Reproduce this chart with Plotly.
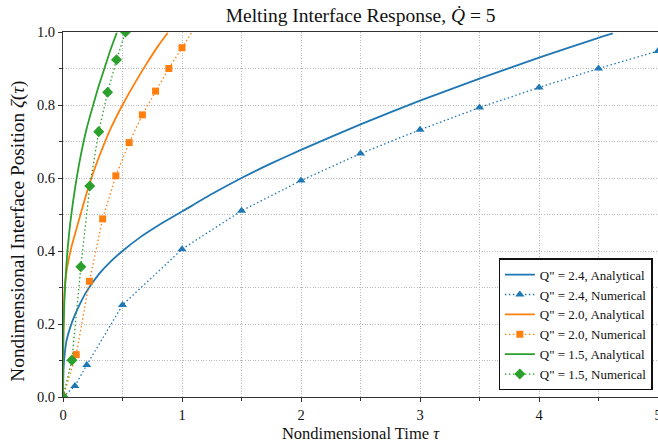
import plotly.graph_objects as go

# ---- data ----
tau_a24 = [0, 0.005, 0.015, 0.03, 0.06, 0.1, 0.15, 0.2, 0.3, 0.4, 0.5, 0.65, 0.8, 1.0, 1.25, 1.5, 1.75, 2.0, 2.5, 3.0, 3.5, 4.0, 4.5, 4.62]
zeta_a24 = [0, 0.08, 0.12, 0.155, 0.19, 0.225, 0.26, 0.29, 0.336, 0.371, 0.40, 0.438, 0.47, 0.508, 0.556, 0.600, 0.640, 0.677, 0.747, 0.812, 0.872, 0.930, 0.984, 0.996]

tau_n24 = [0, 0.1, 0.2, 0.5, 1.0, 1.5, 2.0, 2.5, 3.0, 3.5, 4.0, 4.5, 5.0]
zeta_n24 = [0, 0.030, 0.088, 0.252, 0.405, 0.510, 0.593, 0.667, 0.732, 0.793, 0.848, 0.900, 0.948]

tau_a20 = [0, 0.002, 0.006, 0.013, 0.03, 0.05, 0.07, 0.1, 0.14, 0.2, 0.26, 0.32, 0.4, 0.5, 0.6, 0.7, 0.8, 0.88]
zeta_a20 = [0, 0.14, 0.23, 0.295, 0.345, 0.38, 0.41, 0.445, 0.492, 0.56, 0.62, 0.672, 0.735, 0.80, 0.858, 0.912, 0.962, 0.998]

tau_n20 = [0, 0.111, 0.222, 0.333, 0.444, 0.556, 0.667, 0.778, 0.889, 1.0, 1.111]
zeta_n20 = [0, 0.116, 0.317, 0.488, 0.606, 0.697, 0.773, 0.838, 0.900, 0.957, 1.013]

tau_a15 = [0, 0.001, 0.004, 0.012, 0.025, 0.04, 0.06, 0.083, 0.11, 0.147, 0.2, 0.259, 0.3, 0.354, 0.4, 0.452]
zeta_a15 = [0, 0.11, 0.18, 0.265, 0.345, 0.41, 0.474, 0.532, 0.59, 0.658, 0.737, 0.806, 0.852, 0.906, 0.952, 0.998]

tau_n15 = [0, 0.075, 0.15, 0.225, 0.3, 0.375, 0.45, 0.525]
zeta_n15 = [0, 0.101, 0.357, 0.578, 0.727, 0.835, 0.924, 1.0]

x_ticks = [0, 1, 2, 3, 4, 5]
y_ticks = [0.0, 0.2, 0.4, 0.6, 0.8, 1.0]

BLUE, ORANGE, GREEN = "#1f77b4", "#ff7f0e", "#2ca02c"
DOT = "1.5px,2.5px"
FONT = "Liberation Serif"
GRID = dict(showgrid=True, gridcolor="#b8b8b8", griddash="1px,1.6px", gridwidth=0.8)

fig = go.Figure()
series = [
    (tau_a24, zeta_a24, tau_n24, zeta_n24, BLUE, "triangle-up", 8, "2.4"),
    (tau_a20, zeta_a20, tau_n20, zeta_n20, ORANGE, "square", 7, "2.0"),
    (tau_a15, zeta_a15, tau_n15, zeta_n15, GREEN, "diamond", 8.5, "1.5"),
]
for ta, za, tn, zn, col, sym, msz, q in series:
    fig.add_trace(go.Scatter(x=ta, y=za, mode="lines", line=dict(color=col, width=1.8, shape="spline", smoothing=0.5),
                             name=f'Q" = {q}, Analytical'))
    fig.add_trace(go.Scatter(x=tn, y=zn, mode="lines+markers", line=dict(color=col, width=1.3, dash=DOT),
                             marker=dict(symbol=sym, size=msz, color=col, line=dict(width=0)),
                             name=f'Q" = {q}, Numerical'))

axis_common = dict(
    showline=True, linecolor="#333333", linewidth=1.2, mirror=True,
    ticks="outside", ticklen=4, tickwidth=1, tickcolor="#333333",
    zeroline=False, ticklabeloverflow="allow", automargin=False,
    tickfont=dict(family=FONT, size=14.5, color="#111111"),
    **GRID,
)
fig.update_xaxes(range=[0, 5], tickvals=x_ticks, ticktext=[str(v) for v in x_ticks],
                 minor=dict(dtick=0.5, tick0=0, ticks="outside", ticklen=3, tickcolor="#333333", **GRID),
                 title=dict(text="Nondimensional Time <i>τ</i>", font=dict(family=FONT, size=16.5, color="#111111"), standoff=5),
                 **axis_common)
fig.update_yaxes(range=[0, 1], tickvals=y_ticks, ticktext=[f"{v:.1f}" for v in y_ticks],
                 minor=dict(dtick=0.1, tick0=0, ticks="outside", ticklen=3, tickcolor="#333333", **GRID),
                 **axis_common)

# y-axis title (placed as rotated text to match the reference's offset)
fig.add_annotation(text="Nondimensional Interface Position <i>ζ</i>(<i>τ</i>)", xref="paper", yref="paper",
                   x=-0.0756, y=0.453, xanchor="center", yanchor="middle", textangle=-90, showarrow=False,
                   font=dict(family=FONT, size=19.3, color="#111111"))

fig.update_layout(
    width=658, height=447,
    margin=dict(l=63, r=0, t=32, b=50, autoexpand=False),
    plot_bgcolor="white", paper_bgcolor="white",
    title=dict(text="Melting Interface Response, <i>Q̇</i> = 5", x=0.548, xanchor="center", y=0.965, yanchor="middle",
               font=dict(family=FONT, size=19.5, color="#111111")),
    legend=dict(x=0.991, y=0.018, xanchor="right", yanchor="bottom",
                bgcolor="white", bordercolor="#111111", borderwidth=1.2,
                font=dict(family=FONT, size=13, color="#111111"), itemwidth=30),
    showlegend=True,
)
fig.write_html("out.html")
